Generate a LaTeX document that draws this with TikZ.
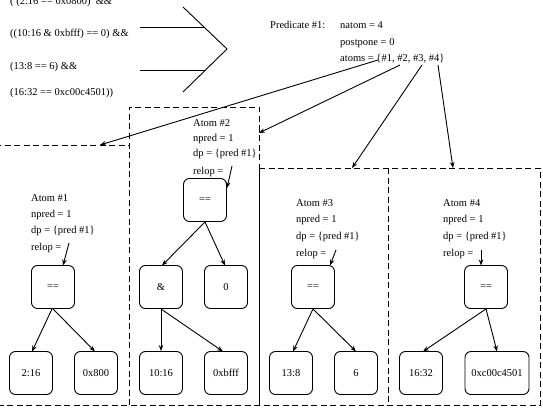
\documentclass[tikz,border=0pt]{standalone}
\usepackage{fontspec}
\setmainfont{Liberation Serif}
\usetikzlibrary{arrows.meta}
\begin{document}
\begin{tikzpicture}[x=1pt,y=-1pt,
  txt/.style={anchor=base west,inner sep=0pt,font=\fontsize{10.5}{12}\selectfont},
  op/.style={draw,rounded corners=6pt,minimum width=43pt,minimum height=43pt,inner sep=0pt,line width=0.9pt,font=\fontsize{10.5}{12}\selectfont},
  wideop/.style={op,minimum width=64pt},
  arr/.style={-{Stealth[length=6pt,width=4.5pt]},line width=0.9pt},
  brd/.style={dash pattern=on 6pt off 3.5pt,line width=0.9pt},
  ln/.style={line width=0.9pt}]
\useasboundingbox (0,0) rectangle (543,409);

% expression
\node[txt] (e1) at (10,5) {( (2:16 == 0x0800)\ \ \&\&};
\node[txt] (e2) at (10,37) {((10:16 \& 0xbfff) == 0) \&\&};
\node[txt] (e3) at (10,70) {(13:8 == 6) \&\&};
\node[txt] (e4) at (10,96) {(16:32 == 0xc00c4501))};

% bracket
\coordinate (b1) at (183,7);
\coordinate (b2) at (227,49);
\coordinate (b3) at (183,92);
\coordinate (h1a) at (140,27);
\coordinate (h1b) at (204,27);
\coordinate (h2a) at (140,70);
\coordinate (h2b) at (205,70);
\draw[ln] (b1) -- (b2) -- (b3);
\draw[ln] (h1a) -- (h1b);
\draw[ln] (h2a) -- (h2b);

% predicate
\node[txt] (pr) at (270,29) {Predicate \#1:};
\node[txt] (p1) at (340,29) {natom = 4};
\node[txt] (p2) at (340,46) {postpone = 0};
\node[txt] (p3) at (340,62) {atoms = \{\#1, \#2, \#3, \#4\}};

% boxes
\draw[brd] (-5,145) -- (129,145);
\draw[brd] (129,405) -- (129,107) -- (259,107) -- (259,168);
\draw[brd] (259,168) -- (540,168) -- (540,405) -- (-5,405);
\draw[brd] (388,168) -- (388,405);
\draw[ln] (259,168) -- (259,405);

% arrows from atoms
\coordinate (s1) at (378,60);
\coordinate (s2) at (400,65);
\coordinate (s3) at (422,65);
\coordinate (s4) at (438,65);
\coordinate (t1) at (100,145);
\coordinate (t2) at (259,133);
\coordinate (t3) at (352,168);
\coordinate (t4) at (453,168);
\draw[arr] (s1) -- (t1);
\draw[arr] (s2) -- (t2);
\draw[arr] (s3) -- (t3);
\draw[arr] (s4) -- (t4);

% Atom 1
\node[txt] (a1t) at (31,201) {Atom \#1};
\node[txt] (a1n) at (31,217) {npred = 1};
\node[txt] (a1d) at (31,233) {dp = \{pred \#1\}};
\node[txt] (a1r) at (31,250) {relop =};
\node[op] (a1eq) at (53,287) {==};
\node[op] (a1l) at (31,373) {2:16};
\node[op] (a1r2) at (96,373) {0x800};
\coordinate (r1) at (69,243);
\draw[arr] (r1) -- (63,265.5);
\draw[arr] (a1eq.south) ++(-1,0) coordinate (q1) -- (32,351.5);
\draw[arr] (a1eq.south) -- (95,351.5);

% Atom 2
\node[txt] (a2t) at (193,126) {Atom \#2};
\node[txt] (a2n) at (193,141) {npred = 1};
\node[txt] (a2d) at (193,157) {dp = \{pred \#1\}};
\node[txt] (a2r) at (193,174) {relop =};
\node[op] (a2eq) at (205,200) {==};
\node[op] (a2and) at (161,287) {\&};
\node[op] (a2z) at (226,287) {0};
\node[op] (a2l) at (161,373) {10:16};
\node[op] (a2r2) at (226,373) {0xbfff};
\coordinate (r2) at (232,166);
\draw[arr] (r2) -- (227,188);
\draw[arr] (a2eq.south) -- (162,265.5);
\draw[arr] (a2eq.south) -- (225,265.5);
\draw[arr] (a2and.south) -- (a2l.north);
\draw[arr] (a2and.south) -- (223,351.5);

% Atom 3
\node[txt] (a3t) at (296,206) {Atom \#3};
\node[txt] (a3n) at (296,222) {npred = 1};
\node[txt] (a3d) at (296,239) {dp = \{pred \#1\}};
\node[txt] (a3r) at (296,256) {relop =};
\node[op] (a3eq) at (313,287) {==};
\node[op] (a3l) at (291,373) {13:8};
\node[op] (a3r2) at (356,373) {6};
\coordinate (r3) at (336,250);
\draw[arr] (r3) -- (330,265.5);
\draw[arr] (a3eq.south) -- (293,351.5);
\draw[arr] (a3eq.south) -- (356,351.5);

% Atom 4
\node[txt] (a4t) at (443,206) {Atom \#4};
\node[txt] (a4n) at (443,222) {npred = 1};
\node[txt] (a4d) at (443,239) {dp = \{pred \#1\}};
\node[txt] (a4r) at (443,256) {relop =};
\node[op] (a4eq) at (486,287) {==};
\node[op] (a4l) at (421,373) {16:32};
\node[wideop] (a4r2) at (497,373) {0xc00c4501};
\coordinate (r4) at (481,250);
\draw[arr] (r4) -- (481,265.5);
\draw[arr] (a4eq.south) -- (423,351.5);
\draw[arr] (a4eq.south) -- (497,351.5);
\end{tikzpicture}
\end{document}
